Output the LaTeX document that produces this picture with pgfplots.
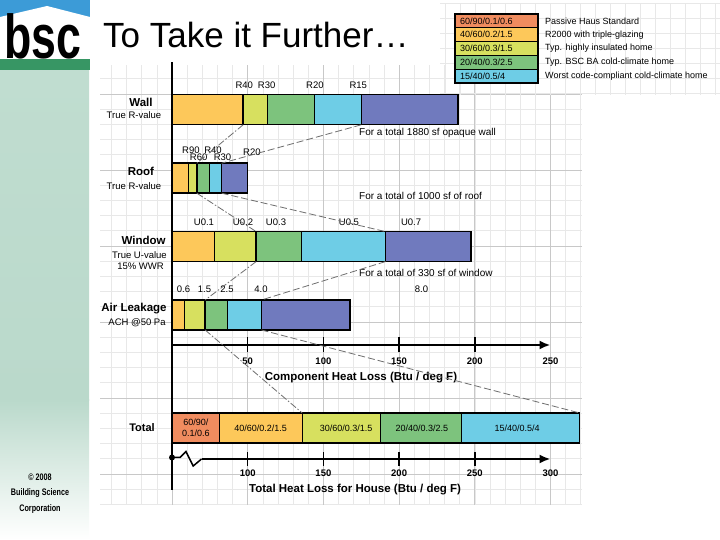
\documentclass[border=0pt]{standalone}
\usepackage{pgfplots}
\pgfplotsset{compat=1.18}
\usepackage{fontspec}
\setmainfont{Liberation Sans}
\usetikzlibrary{arrows.meta}

\definecolor{cred}{RGB}{240,140,95}
\definecolor{corange}{RGB}{253,200,90}
\definecolor{cyellow}{RGB}{215,224,95}
\definecolor{cgreen}{RGB}{125,195,125}
\definecolor{ccyan}{RGB}{110,205,230}
\definecolor{cpurple}{RGB}{112,122,190}
\definecolor{gridminor}{RGB}{232,232,232}
\definecolor{gridmajor}{RGB}{200,200,200}
\definecolor{logoblue}{RGB}{60,155,215}
\definecolor{logogreen}{RGB}{55,150,100}
\definecolor{striptop}{RGB}{192,221,208}
\definecolor{stripmid}{RGB}{186,217,203}
\definecolor{linegray}{RGB}{110,110,110}

\tikzset{
  lab/.style={font=\fontsize{9.5}{10}\selectfont, inner sep=0pt},
  cat/.style={font=\bfseries\fontsize{11.5}{12}\selectfont, inner sep=0pt},
  sub/.style={font=\fontsize{9.5}{10}\selectfont, inner sep=0pt},
}
\pgfplotsset{
  seg/.style={xbar, bar shift=0pt, bar width=30pt, draw=black, line width=1.4pt, fill=#1},
}

\begin{document}
\begin{tikzpicture}[x=1pt,y=1pt]
\useasboundingbox (0,0) rectangle (720,540);
\fill[white] (0,0) rectangle (720,540);
% left strip
\shade[top color=striptop, bottom color=stripmid] (0,139.5) rectangle (89,470);
\shade[top color=stripmid, bottom color=white] (0,0) rectangle (89,140);
% main grid
\begin{scope}
\clip (100,35) rectangle (582,475);
\foreach \k in {-5,...,28} { \draw[gridminor, line width=0.6pt] ({172+15.14*\k},35) -- ({172+15.14*\k},475); }
\foreach \k in {-8,...,23} { \draw[gridminor, line width=0.6pt] (100,{370-15.2*\k}) -- (582,{370-15.2*\k}); }
\foreach \k in {-1,...,5} { \draw[gridmajor, line width=0.7pt] ({172+75.7*\k},35) -- ({172+75.7*\k},475); }
\foreach \k in {-2,...,4} { \draw[gridmajor, line width=0.7pt] (100,{370-76*\k}) -- (582,{370-76*\k}); }
\end{scope}
% legend grid
\begin{scope}
\clip (440,445) rectangle (720,537);
\foreach \k in {0,...,19} { \draw[gridminor, line width=0.6pt] ({445+15*\k},445) -- ({445+15*\k},537); }
\foreach \k in {0,...,6} { \draw[gridminor, line width=0.6pt] (440,{447+15*\k}) -- (720,{447+15*\k}); }
\end{scope}
% logo
\fill[logoblue] (0,482) rectangle (90,540);
\fill[white] (0,523) -- (47,534) -- (90,523) -- (90,481) -- (0,481) -- cycle;
\fill[logogreen] (0,470) rectangle (90,481);
\node[anchor=base west, inner sep=0pt] at (4,481) {\scalebox{0.72}[1]{\fontsize{62}{62}\selectfont\bfseries bsc}};
% title
\node[anchor=base west, inner sep=0pt] at (103,492) {\fontsize{35}{40}\selectfont To Take it Further…};
% legend
\filldraw[fill=cred, draw=black, line width=1.2pt] (455,512.2) rectangle (538,526);
\filldraw[fill=corange, draw=black, line width=1.2pt] (455,498.4) rectangle (538,512.2);
\filldraw[fill=cyellow, draw=black, line width=1.2pt] (455,484.6) rectangle (538,498.4);
\filldraw[fill=cgreen, draw=black, line width=1.2pt] (455,470.8) rectangle (538,484.6);
\filldraw[fill=ccyan, draw=black, line width=1.2pt] (455,457) rectangle (538,470.8);
\begin{scope}[every node/.style={anchor=west, inner sep=0pt, font=\fontsize{9}{10}\selectfont}]
\node at (460,519.1) {60/90/0.1/0.6};
\node at (460,505.3) {40/60/0.2/1.5};
\node at (460,491.5) {30/60/0.3/1.5};
\node at (460,477.7) {20/40/0.3/2.5};
\node at (460,463.9) {15/40/0.5/4};
\node at (545,519.1) {Passive Haus Standard};
\node at (545,505.3) {R2000 with triple-glazing};
\node at (545,491.5) {Typ. highly insulated home};
\node at (545,477.7) {Typ. BSC BA cold-climate home};
\node at (545,463.9) {Worst code-compliant cold-climate home};
\end{scope}
% copyright
\begin{scope}[every node/.style={inner sep=0pt, font=\bfseries\fontsize{9.5}{10}\selectfont}]
\node at (40,63) {\scalebox{0.76}[1]{© 2008}};
\node at (40,47) {\scalebox{0.76}[1]{Building Science}};
\node at (40,31) {\scalebox{0.76}[1]{Corporation}};
\end{scope}

% ---------------- component axis ----------------
\begin{axis}[
  at={(172pt,195pt)}, anchor=south west,
  scale only axis, width=378.5pt, height=283pt,
  xmin=0, xmax=250, ymin=-0.4386, ymax=3.6988,
  axis x line=bottom, axis y line=left,
  x axis line style={line width=2.2pt, -{Latex[length=11pt,width=9pt]}},
  y axis line style={line width=2.2pt, -},
  xtick={50,100,150,200}, xticklabels={50,100,150,200},
  extra x ticks={250}, extra x tick labels={250},
  extra x tick style={tick style={draw=none}},
  ytick=\empty,
  tick align=center, major tick length=15pt,
  every tick/.style={black, line width=1.5pt},
  xticklabel style={font=\bfseries\fontsize{9.5}{10}\selectfont, yshift=-2pt},
  clip=false, axis on top,
]
\addplot[seg=cpurple] coordinates {(189,3) (49.7,2) (197.5,1) (117.5,0)};
\addplot[seg=ccyan]   coordinates {(125,3) (32.8,2) (141,1)   (59.1,0)};
\addplot[seg=cgreen]  coordinates {(94,3)  (24.6,2) (85.4,1)  (36.6,0)};
\addplot[seg=cyellow] coordinates {(63,3)  (16.4,2) (55.6,1)  (21.9,0)};
\addplot[seg=corange] coordinates {(47,3)  (10.8,2) (28,1)    (8.2,0)};

\coordinate (wB) at (axis cs:47,3);
\coordinate (wD) at (axis cs:125,3);
\coordinate (rB) at (axis cs:16.4,2);
\coordinate (rD) at (axis cs:32.8,2);
\coordinate (nB) at (axis cs:55.6,1);
\coordinate (nD) at (axis cs:141,1);
\coordinate (aB) at (axis cs:21.9,0);
\coordinate (aD) at (axis cs:59.1,0);

% category labels
\node[cat, yshift=7.7pt] at (axis cs:-20.5,3) {Wall};
\node[sub, yshift=-5.3pt] at (axis cs:-25.1,3) {True R-value};
\node[cat, yshift=7pt] at (axis cs:-20.5,2) {Roof};
\node[sub, yshift=-8pt] at (axis cs:-25.1,2) {True R-value};
\node[cat, yshift=6.7pt] at (axis cs:-18.8,1) {Window};
\node[sub, yshift=-8.3pt] at (axis cs:-21.5,1) {True U-value};
\node[sub, yshift=-19.7pt] at (axis cs:-20.8,1) {15\% WWR};
\node[cat, yshift=6.7pt] at (axis cs:-25.1,0) {Air Leakage};
\node[sub, yshift=-7.3pt] at (axis cs:-23.1,0) {ACH @50 Pa};

% value labels
\node[lab, yshift=25pt] at (axis cs:47.7,3) {R40};
\node[lab, yshift=25pt] at (axis cs:62.5,3) {R30};
\node[lab, yshift=25pt] at (axis cs:94.4,3) {R20};
\node[lab, yshift=25pt] at (axis cs:123,3) {R15};
\node[lab, yshift=28pt] at (axis cs:12.5,2) {R90};
\node[lab, yshift=28pt] at (axis cs:27.1,2) {R40};
\node[lab, yshift=20.5pt] at (axis cs:17.6,2) {R60};
\node[lab, yshift=20.5pt] at (axis cs:33.4,2) {R30};
\node[lab, yshift=26pt] at (axis cs:52.8,2) {R20};
\node[lab, yshift=24pt] at (axis cs:21.1,1) {U0.1};
\node[lab, yshift=24pt] at (axis cs:46.9,1) {U0.2};
\node[lab, yshift=24pt] at (axis cs:68.7,1) {U0.3};
\node[lab, yshift=24pt] at (axis cs:116.9,1) {U0.5};
\node[lab, yshift=24pt] at (axis cs:157.9,1) {U0.7};
\node[lab, yshift=26pt] at (axis cs:7.6,0) {0.6};
\node[lab, yshift=26pt] at (axis cs:21.5,0) {1.5};
\node[lab, yshift=26pt] at (axis cs:36.3,0) {2.5};
\node[lab, yshift=26pt] at (axis cs:58.8,0) {4.0};
\node[lab, yshift=26pt] at (axis cs:164.8,0) {8.0};

% notes
\node[anchor=west, font=\fontsize{10}{11}\selectfont, inner sep=0pt, yshift=-23pt] at (axis cs:123.5,3) {For a total 1880 sf opaque wall};
\node[anchor=west, font=\fontsize{10}{11}\selectfont, inner sep=0pt, yshift=-17.7pt] at (axis cs:123.5,2) {For a total of 1000 sf of roof};
\node[anchor=west, font=\fontsize{10}{11}\selectfont, inner sep=0pt, yshift=-26.3pt] at (axis cs:123.5,1) {For a total of 330 sf of window};

\node[font=\bfseries\fontsize{11.5}{12}\selectfont, yshift=-33pt] at (axis cs:124.8,-0.4386) {Component Heat Loss (Btu / deg F)};
\end{axis}

% ---------------- total axis ----------------
\begin{axis}[
  at={(172pt,50pt)}, anchor=south west,
  scale only axis, width=408.8pt, height=145pt,
  xmin=50, xmax=320, ymin=-31, ymax=114,
  axis x line=middle, axis y line=left,
  x axis line style={draw=none},
  y axis line style={line width=2.2pt, -},
  xtick={100,150,200,250}, xticklabels={100,150,200,250},
  extra x ticks={300}, extra x tick labels={300},
  extra x tick style={tick style={draw=none}},
  ytick=\empty,
  tick align=center, major tick length=14pt,
  every tick/.style={black, line width=1.5pt},
  xticklabel style={font=\bfseries\fontsize{9.5}{10}\selectfont},
  clip mode=individual, axis on top,
]
\addplot[seg=ccyan]   coordinates {(319.3,31)};
\addplot[seg=cgreen]  coordinates {(241.2,31)};
\addplot[seg=cyellow] coordinates {(187.7,31)};
\addplot[seg=corange] coordinates {(136,31)};
\addplot[seg=cred]    coordinates {(81.3,31)};

\coordinate (tB) at (axis cs:136,31);
\coordinate (tE) at (axis cs:319.3,31);

\draw[line width=2.2pt, -{Latex[length=11pt,width=9pt]}] (axis cs:69.5,0) -- (axis cs:300,0);
\draw[line width=1.5pt] (axis cs:50,1.5) -- (axis cs:55.3,1.5) -- (axis cs:59.2,7.5) -- (axis cs:64,-7) -- (axis cs:69.5,0);
\fill (axis cs:50,1.5) circle (3pt);

\begin{scope}[every node/.style={font=\fontsize{9}{10}\selectfont, inner sep=0pt, align=center}]
\node at (axis cs:65.8,31) {60/90/\\[1pt]0.1/0.6};
\node at (axis cs:108.5,31) {40/60/0.2/1.5};
\node at (axis cs:165,31) {30/60/0.3/1.5};
\node at (axis cs:215,31) {20/40/0.3/2.5};
\node at (axis cs:278,31) {15/40/0.5/4};
\end{scope}
\node[font=\bfseries\fontsize{11}{12}\selectfont, inner sep=0pt] at (axis cs:30.2,31) {Total};
\node[font=\bfseries\fontsize{11.5}{12}\selectfont, inner sep=0pt] at (axis cs:170.9,-31) {Total Heat Loss for House (Btu / deg F)};
\end{axis}

% connecting lines
\begin{scope}[linegray, line width=0.8pt]
\draw[dash pattern=on 7pt off 2pt on 1.5pt off 2pt] ([yshift=-15pt]wB) -- ([yshift=15pt]rB);
\draw[dash pattern=on 7pt off 2pt on 1.5pt off 2pt] ([yshift=-15pt]rB) -- ([yshift=15pt]nB);
\draw[dash pattern=on 7pt off 2pt on 1.5pt off 2pt] ([yshift=-15pt]nB) -- ([yshift=15pt]aB);
\draw[dash pattern=on 7pt off 2pt on 1.5pt off 2pt] ([yshift=-15pt]aB) -- ([yshift=15pt]tB);
\draw[dash pattern=on 7pt off 3pt] ([yshift=-15pt]wD) -- ([yshift=15pt]rD);
\draw[dash pattern=on 7pt off 3pt] ([yshift=-15pt]rD) -- ([yshift=15pt]nD);
\draw[dash pattern=on 7pt off 3pt] ([yshift=-15pt]nD) -- ([yshift=15pt]aD);
\draw[dash pattern=on 7pt off 3pt] ([yshift=-15pt]aD) -- ([yshift=15pt]tE);
\end{scope}
\end{tikzpicture}
\end{document}
